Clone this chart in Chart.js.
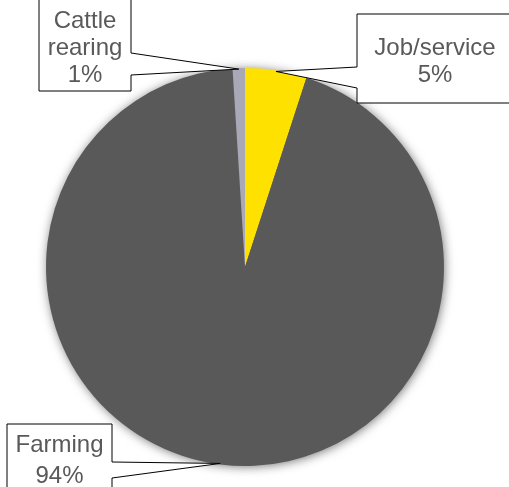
<!DOCTYPE html>
<html>
<head>
<meta charset="utf-8">
<script src="https://cdn.jsdelivr.net/npm/chart.js@4"></script>
<style>
    html, body { margin: 0; padding: 0; background: #fff; }
    #wrap { width: 509px; height: 487px; position: relative; }
</style>
</head>
<body>
<div id="wrap"><canvas id="occupationChart"></canvas></div>
<script>
// Occupation shares (%)
const categories = ['Job/service', 'Farming', 'Cattle rearing'];
const shares = [5, 94, 1];
const sliceColors = ['#FFE100', '#595959', '#A8A8B6'];

// Callout boxes: box rect, which side the pointer leaves from, and the pointer's base span
const callouts = [
    { x: 357, y: 14, w: 158, h: 89, side: 'left', b0: 67, b1: 88, wrap: false, baselines: [55, 82] },
    { x: 7, y: 424, w: 105, h: 80, side: 'right', b0: 462, b1: 478, wrap: false, baselines: [452, 483] },
    { x: 39, y: -1, w: 92, h: 92, side: 'right', b0: 53, b1: 75, wrap: true, baselines: [28, 55, 82] }
];

document.addEventListener('DOMContentLoaded', () => {
    // soft halo under the pie
    const pieGlow = {
        id: 'pieGlow',
        beforeDatasetsDraw(chart) {
            const arc = chart.getDatasetMeta(0).data[0];
            if (!arc) return;
            const ctx = chart.ctx;
            ctx.save();
            ctx.shadowColor = 'rgba(0,0,0,0.6)';
            ctx.shadowBlur = 11;
            ctx.shadowOffsetX = 1;
            ctx.shadowOffsetY = 1;
            ctx.fillStyle = '#595959';
            ctx.beginPath();
            ctx.arc(arc.x, arc.y, arc.outerRadius - 1, 0, Math.PI * 2);
            ctx.fill();
            ctx.restore();
        }
    };

    // label boxes with a wedge pointing at the middle of each slice
    const calloutLabels = {
        id: 'calloutLabels',
        afterDatasetsDraw(chart) {
            const ctx = chart.ctx;
            const meta = chart.getDatasetMeta(0);
            callouts.forEach((c, i) => {
                const arc = meta.data[i];
                const mid = (arc.startAngle + arc.endAngle) / 2;
                const r = arc.outerRadius - 1;
                const tx = arc.x + Math.cos(mid) * r;
                const ty = arc.y + Math.sin(mid) * r;

                ctx.save();
                ctx.beginPath();
                ctx.moveTo(c.x, c.y);
                ctx.lineTo(c.x + c.w, c.y);
                if (c.side === 'right') {
                    ctx.lineTo(c.x + c.w, c.b0);
                    ctx.lineTo(tx, ty);
                    ctx.lineTo(c.x + c.w, c.b1);
                }
                ctx.lineTo(c.x + c.w, c.y + c.h);
                ctx.lineTo(c.x, c.y + c.h);
                if (c.side === 'left') {
                    ctx.lineTo(c.x, c.b1);
                    ctx.lineTo(tx, ty);
                    ctx.lineTo(c.x, c.b0);
                }
                ctx.closePath();
                ctx.fillStyle = '#fff';
                ctx.fill();
                ctx.lineWidth = 1;
                ctx.strokeStyle = '#000';
                ctx.stroke();

                const name = chart.data.labels[i];
                const lines = c.wrap ? name.split(' ') : [name];
                lines.push(chart.data.datasets[0].data[i] + '%');
                ctx.fillStyle = '#595959';
                ctx.font = '24px "Liberation Sans", Arial, sans-serif';
                ctx.textAlign = 'center';
                ctx.textBaseline = 'alphabetic';
                const cx = c.side === 'left' ? 435 : c.x + c.w / 2;
                lines.forEach((t, k) => ctx.fillText(t, cx, c.baselines[k]));
                ctx.restore();
            });
        }
    };

    const ctx = document.getElementById('occupationChart');
    new Chart(ctx, {
        type: 'pie',
        data: {
            labels: categories,
            datasets: [{
                data: shares,
                backgroundColor: sliceColors,
                borderWidth: 0
            }]
        },
        options: {
            responsive: true,
            maintainAspectRatio: false,
            animation: false,
            layout: { padding: { left: 46, right: 65, top: 68, bottom: 21 } },
            plugins: {
                legend: { display: false },
                tooltip: { enabled: false }
            }
        },
        plugins: [pieGlow, calloutLabels]
    });
});
</script>
</body>
</html>
